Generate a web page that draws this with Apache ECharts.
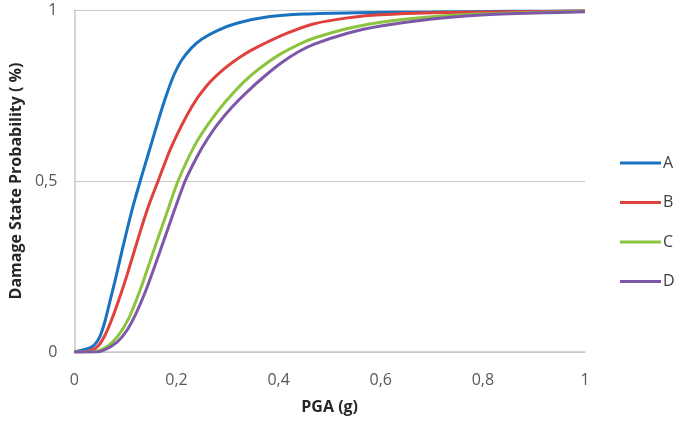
<!DOCTYPE html>
<html>
<head>
<meta charset="utf-8">
<script src="https://cdn.jsdelivr.net/npm/echarts@6/dist/echarts.min.js"></script>
<style>html,body{margin:0;padding:0;background:#fff}#c{width:678px;height:426px}</style>
</head>
<body>
<div id="c"></div>
<script>
const seriesNames = ['A', 'B', 'C', 'D'];
const xTickLabels = ['0', '0,2', '0,4', '0,6', '0,8', '1'];
const yTickLabels = ['0', '0,5', '1'];

const aX = [0,0.03,0.04,0.05,0.06,0.07,0.08,0.094,0.112,0.129,0.147,0.165,0.18,0.195,0.21,0.23,0.25,0.28,0.32,0.38,0.45,0.55,0.7,0.85,1];
const aY = [0,0.012,0.022,0.045,0.09,0.15,0.21,0.3,0.41,0.5,0.59,0.68,0.75,0.81,0.853,0.89,0.915,0.94,0.962,0.98,0.988,0.992,0.994,0.996,0.997];

const bX = [0,0.02,0.035,0.048,0.061,0.074,0.087,0.103,0.129,0.146,0.164,0.19,0.23,0.26,0.295,0.33,0.36,0.418,0.47,0.535,0.6,0.7,0.85,1];
const bY = [0,0.001,0.006,0.02,0.052,0.098,0.152,0.224,0.352,0.43,0.5,0.6,0.717,0.78,0.83,0.868,0.893,0.933,0.96,0.977,0.986,0.992,0.995,0.997];

const cX = [0,0.03,0.048,0.068,0.087,0.107,0.123,0.133,0.162,0.183,0.203,0.236,0.265,0.295,0.33,0.36,0.4,0.438,0.47,0.535,0.6,0.7,0.79,0.9,1];
const cY = [0,0,0.004,0.02,0.05,0.1,0.158,0.198,0.325,0.415,0.5,0.605,0.672,0.73,0.787,0.826,0.868,0.898,0.918,0.946,0.964,0.98,0.988,0.993,0.996];

const dX = [0,0.03,0.048,0.074,0.094,0.113,0.14,0.175,0.196,0.217,0.24,0.256,0.28,0.308,0.34,0.373,0.405,0.438,0.47,0.535,0.6,0.7,0.79,0.9,1];
const dY = [0,0,0.001,0.018,0.045,0.089,0.18,0.325,0.415,0.5,0.57,0.612,0.665,0.715,0.763,0.807,0.845,0.877,0.9,0.932,0.953,0.974,0.985,0.991,0.995];

const colors = ['#1a73c0', '#e0413c', '#8cc43f', '#7e58a8'];
const xs = [aX, bX, cX, dX];
const ys = [aY, bY, cY, dY];

const font = 'Open Sans, sans-serif';
const chart = echarts.init(document.getElementById('c'), null, {renderer: 'canvas'});
chart.setOption({
  animation: false,
  backgroundColor: '#fff',
  grid: {left: 72, right: 93, top: 10, bottom: 74, containLabel: false},
  legend: {
    orient: 'vertical', left: 615, top: 150,
    itemWidth: 41, itemHeight: 3, itemGap: 23.5,
    icon: 'rect',
    textStyle: {fontFamily: font, fontSize: 16, color: '#404040', padding: [0,0,0,-3]},
    data: seriesNames
  },
  xAxis: {
    type: 'value', min: 0, max: 1, interval: 0.2,
    name: 'PGA (g)', nameLocation: 'middle', nameGap: 47,
    nameTextStyle: {fontFamily: font, fontSize: 16, fontWeight: 'bold', color: '#262626'},
    axisLine: {show: true, lineStyle: {color: '#c8c8c8', width: 1.5}},
    axisTick: {show: false},
    splitLine: {show: false},
    axisLabel: {
      margin: 20, fontFamily: font, fontSize: 16, color: '#595959',
      formatter: v => xTickLabels[Math.round(v / 0.2)]
    }
  },
  yAxis: {
    type: 'value', min: 0, max: 1, interval: 0.5,
    name: 'Damage State Probability ( %)', nameLocation: 'middle', nameGap: 49,
    nameTextStyle: {fontFamily: font, fontSize: 16, fontWeight: 'bold', color: '#262626'},
    axisLine: {show: true, lineStyle: {color: '#c8c8c8', width: 1.5}},
    axisTick: {show: false},
    splitLine: {show: true, lineStyle: {color: '#c8c8c8', width: 1.2}},
    axisLabel: {
      margin: 17, fontFamily: font, fontSize: 16, color: '#595959',
      formatter: v => yTickLabels[Math.round(v / 0.5)]
    }
  },
  series: seriesNames.map((n, i) => ({
    name: n, type: 'line',
    data: xs[i].map((x, j) => [x, ys[i][j]]),
    showSymbol: false, symbol: 'none',
    smooth: 0.25,
    lineStyle: {color: colors[i], width: 3},
    itemStyle: {color: colors[i]}
  }))
});
</script>
</body>
</html>
